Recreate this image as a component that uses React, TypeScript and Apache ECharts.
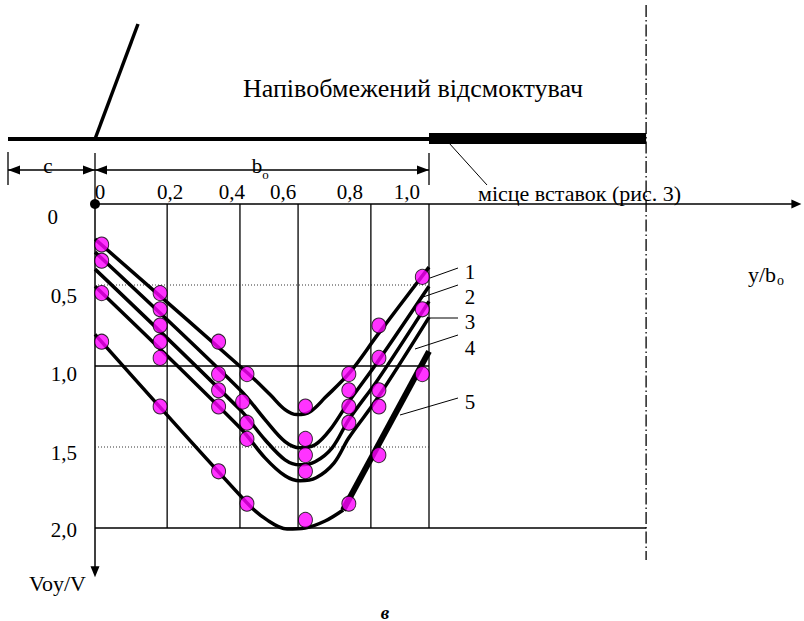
import React, { useEffect, useRef } from "react";
import * as echarts from "echarts";

// ---- tick labels ----
const xTickLabels = ["0", "0,2", "0,4", "0,6", "0,8", "1,0"];
const xTickLabelPos = [0.015, 0.225, 0.41, 0.563, 0.763, 0.934];
const yTickLabels = ["0", "0,5", "1,0", "1,5", "2,0"];
const yTickLabelPos = [0.08, 0.57, 1.05, 1.535, 2.01];

// ---- grid lines ----
const gridXValues = [0.216, 0.434, 0.608, 0.826, 1.0];
const solidHLines = [1.0, 2.0];
const solidHLineEnds = [1.0, 1.65];
const dottedHLines = [0.5, 1.5];
const symmetryX = 1.65;

// ---- curves (y/bo, Voy/V) ----
const curve1 = [[0, 0.217], [0.455, 1.04], [0.524, 1.176], [0.569, 1.269], [0.605, 1.3], [0.644, 1.282], [0.689, 1.195], [0.763, 1.04], [0.847, 0.805], [1.0, 0.39]];
const curve2 = [[0, 0.297], [0.434, 1.146], [0.509, 1.331], [0.569, 1.467], [0.614, 1.505], [0.659, 1.486], [0.704, 1.393], [0.76, 1.22], [0.847, 0.972], [1.0, 0.508]];
const curve3 = [[0, 0.402], [0.434, 1.269], [0.509, 1.455], [0.569, 1.579], [0.614, 1.61], [0.659, 1.591], [0.71, 1.505], [0.76, 1.331], [0.847, 1.084], [1.0, 0.601]];
const curve4 = [[0, 0.508], [0.434, 1.381], [0.509, 1.567], [0.569, 1.678], [0.614, 1.709], [0.662, 1.69], [0.716, 1.598], [0.76, 1.443], [0.847, 1.195], [1.0, 0.7]];
const curve5 = [[0, 0.805], [0.455, 1.845], [0.515, 1.95], [0.575, 2.006], [0.629, 2.0], [0.689, 1.957], [0.743, 1.889]];
const curve5Thick = [[0.743, 1.889], [1.0, 0.91]];

// ---- experimental points ----
const points1 = [[0.02, 0.25], [0.195, 0.55], [0.37, 0.85], [0.455, 1.05], [0.63, 1.25], [0.76, 1.05], [0.85, 0.75], [0.98, 0.45]];
const points2 = [[0.02, 0.35], [0.195, 0.65], [0.37, 1.05], [0.442, 1.22], [0.63, 1.45], [0.76, 1.15], [0.85, 0.95], [0.98, 0.65]];
const points3 = [[0.195, 0.75], [0.37, 1.15], [0.455, 1.35], [0.63, 1.55], [0.76, 1.25], [0.85, 1.15]];
const points4 = [[0.02, 0.55], [0.195, 0.85], [0.195, 0.95], [0.37, 1.25], [0.455, 1.45], [0.63, 1.65], [0.76, 1.35], [0.85, 1.25]];
const points5 = [[0.02, 0.85], [0.195, 1.25], [0.37, 1.65], [0.455, 1.85], [0.63, 1.95], [0.76, 1.85], [0.85, 1.55], [0.98, 1.05]];

const curveNames = ["1", "2", "3", "4", "5"];

const FONT = "Liberation Serif";
const GL = 95;
const GT = 204;
const SX = 334;
const SY = 162;
const X_MAX = 2.1;
const Y_MAX = 2.27;

const px = (v: number) => GL + v * SX;

function txt(text: string, x: number, y: number, size: number, align: string, extra: any = {}) {
  return {
    type: "text",
    z: 10,
    style: {
      text,
      x,
      y,
      fill: "#000",
      fontFamily: FONT,
      fontSize: size,
      fontStyle: extra.italic ? "italic" : "normal",
      fontWeight: extra.bold ? "bold" : "normal",
      align,
      textAlign: align,
      verticalAlign: "middle",
      textVerticalAlign: "middle",
    },
  };
}

function ln(x1: number, y1: number, x2: number, y2: number, w: number, extra: any = {}) {
  return {
    type: "line",
    z: 10,
    shape: { x1, y1, x2, y2 },
    style: { stroke: "#000", lineWidth: w, ...extra },
  };
}

function tri(points: number[][]) {
  return { type: "polygon", z: 10, shape: { points }, style: { fill: "#000" } };
}

export default function App() {
  const ref = useRef<HTMLDivElement>(null);
  useEffect(() => {
    if (!ref.current) return;
    const chart = echarts.init(ref.current, null, { renderer: "svg" });
    const curves = [curve1, curve2, curve3, curve4, curve5];
    const pointSets = [points1, points2, points3, points4, points5];

    const series: any[] = [];
    gridXValues.forEach((gx) => {
      series.push({ type: "line", data: [[gx, 0], [gx, 2]], symbol: "none", silent: true, z: 1, lineStyle: { color: "#000", width: 1.3 } });
    });
    solidHLines.forEach((hy, i) => {
      series.push({ type: "line", data: [[0, hy], [solidHLineEnds[i], hy]], symbol: "none", silent: true, z: 1, lineStyle: { color: "#000", width: 1.3 } });
    });
    dottedHLines.forEach((hy) => {
      series.push({ type: "line", data: [[0, hy], [1.0, hy]], symbol: "none", silent: true, z: 1, lineStyle: { color: "#333", width: 1, type: [1, 2] } });
    });
    curves.forEach((c, i) => {
      series.push({ name: curveNames[i], type: "line", data: c, smooth: 0.35, symbol: "none", z: 2, lineStyle: { color: "#000", width: 3.5 } });
    });
    series.push({ type: "line", data: curve5Thick, symbol: "none", z: 2, lineStyle: { color: "#000", width: 6 } });
    pointSets.forEach((p, i) => {
      series.push({
        name: "pts" + curveNames[i],
        type: "scatter",
        data: p,
        symbol: "circle",
        symbolSize: [14, 15],
        z: 3,
        itemStyle: { color: "#ff00ff", borderColor: "#000", borderWidth: 1 },
      });
    });

    const graphic: any[] = [
      // schematic
      txt("Напівобмежений відсмоктувач", 413, 88, 26, "center"),
      ln(138, 24, 95, 139, 3.5),
      ln(8, 139, px(1.0), 139, 4),
      { type: "rect", z: 10, shape: { x: px(1.0), y: 133, width: px(symmetryX) - px(1.0), height: 11 }, style: { fill: "#000" } },
      // dimension lines
      ln(8, 152, 8, 185, 1.3),
      ln(GL, 153, GL, GT, 1.3),
      ln(px(1.0), 153, px(1.0), 185, 1.3),
      ln(8, 170, GL, 170, 1.3),
      ln(GL, 170, px(1.0), 170, 1.3),
      tri([[8, 170], [20, 165.5], [20, 174.5]]),
      tri([[GL, 170], [GL - 12, 165.5], [GL - 12, 174.5]]),
      tri([[GL, 170], [GL + 12, 165.5], [GL + 12, 174.5]]),
      tri([[px(1.0), 170], [px(1.0) - 12, 165.5], [px(1.0) - 12, 174.5]]),
      txt("c", 48, 166, 21, "center"),
      txt("b", 257, 166, 21, "center"),
      txt("o", 265.5, 174, 13, "center"),
      // insertion leader
      ln(449, 143, 487, 185, 1),
      txt("місце вставок (рис. 3)", 478, 193, 22, "left"),
      // origin dot
      { type: "circle", z: 10, shape: { cx: GL, cy: GT, r: 5 }, style: { fill: "#000" } },
      // symmetry line
      ln(px(symmetryX), 5, px(symmetryX), 560, 1.3, { lineDash: [12, 3, 1.5, 3] }),
      // curve labels
      ln(430, 278, 458, 268, 1), txt("1", 470, 272, 21, "center"),
      ln(423, 297, 458, 285, 1), txt("2", 470, 297, 21, "center"),
      ln(428, 318, 458, 318, 1), txt("3", 470, 322, 21, "center"),
      ln(415, 349, 458, 335, 1), txt("4", 470, 348, 21, "center"),
      ln(400, 415, 458, 398, 1), txt("5", 470, 402, 21, "center"),
      // axis names
      txt("y/b", 748, 274, 22, "left"),
      txt("o", 777, 280, 14, "left"),
      txt("Voy/V", 86, 583, 22, "right"),
      txt("в", 385, 612, 19, "center", { italic: true, bold: true }),
    ];

    chart.setOption({
      animation: false,
      backgroundColor: "#fff",
      grid: { left: GL, top: GT, width: X_MAX * SX, height: Y_MAX * SY, containLabel: false },
      xAxis: {
        type: "value",
        position: "top",
        min: 0,
        max: X_MAX,
        axisLine: { show: true, onZero: false, symbol: ["none", "triangle"], symbolSize: [9, 10], lineStyle: { color: "#000", width: 1.5 } },
        axisTick: { show: false },
        splitLine: { show: false },
        axisLabel: {
          show: true,
          customValues: xTickLabelPos,
          formatter: (v: number) => {
            const i = xTickLabelPos.findIndex((p) => Math.abs(p - v) < 1e-6);
            return i >= 0 ? xTickLabels[i] : "";
          },
          color: "#000",
          fontFamily: FONT,
          fontSize: 21,
          margin: 2,
        },
      },
      yAxis: {
        type: "value",
        inverse: true,
        min: 0,
        max: Y_MAX,
        axisLine: { show: true, onZero: false, symbol: ["triangle", "none"], symbolSize: [9, 11], lineStyle: { color: "#000", width: 1.5 } },
        axisTick: { show: false },
        splitLine: { show: false },
        axisLabel: {
          show: true,
          customValues: yTickLabelPos,
          formatter: (v: number) => {
            const i = yTickLabelPos.findIndex((p) => Math.abs(p - v) < 1e-6);
            if (i === 0) return "{z|" + yTickLabels[0] + "}";
            return i >= 0 ? yTickLabels[i] : "";
          },
          rich: { z: { fontFamily: FONT, fontSize: 21, color: "#000", padding: [0, 19, 0, 0] } },
          color: "#000",
          fontFamily: FONT,
          fontSize: 21,
          align: "right",
          margin: 18,
        },
      },
      series,
      graphic,
    });
    return () => chart.dispose();
  }, []);
  return <div ref={ref} style={{ position: "fixed", left: 0, top: 0, width: 804, height: 621, background: "#fff" }} />;
}
